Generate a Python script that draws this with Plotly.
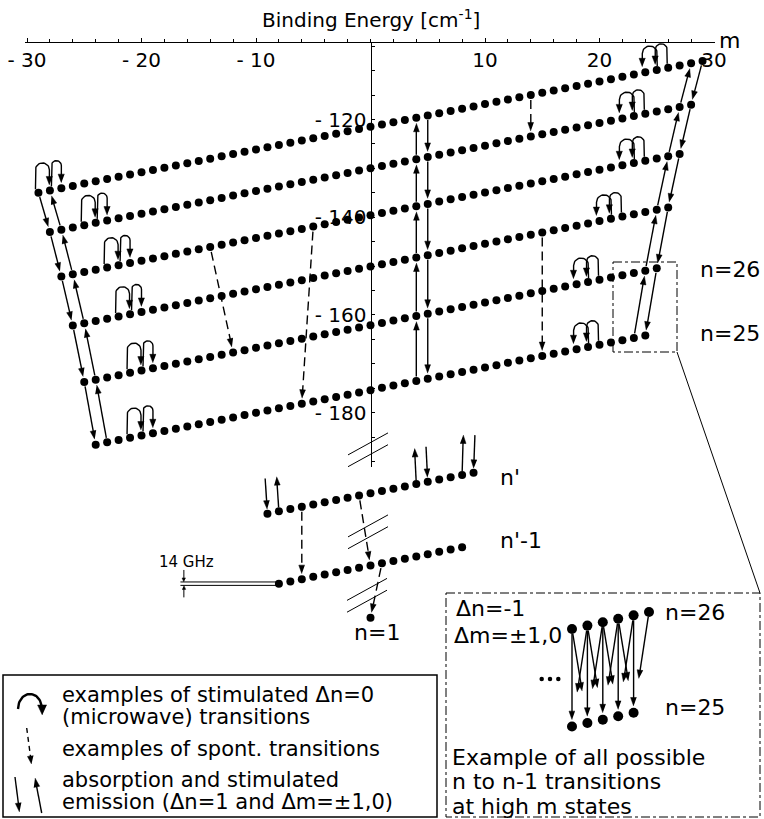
import math
import plotly.graph_objects as go

# ---------------- data ----------------
level_n = [30, 29, 28, 27, 26, 25]
level_E0 = [-121.5, -130.0, -139.6, -150.1, -162.1, -175.4]   # binding energy at m = 0 [cm^-1]
zeeman_shift = 0.465                                           # cm^-1 per unit of m (~14 GHz)

low_names = ["n'", "n'-1", "n=1"]
low_E0 = [-196.5, -211.3, -222.0]
low_mmax = [9, 8, 0]

# microwave (dn=0) double loops: starting m of the chain m0 -> m0+1 -> m0+2 (left) / m0 -> m0-1 -> m0-2 (right)
mw_left_start = [-29, -25, -23, -22, -21, -21]
mw_right_start = [26, 24, 24, 22, 20, 20]

# spontaneous transitions (n_from, m_from, n_to, m_to)
spont_upper = [(30, 14, 29, 14), (28, -14, 26, -12), (28, -5, 25, -6), (27, 15, 25, 15)]
# lower schematic levels (index into low_*)
spont_lower = [(0, -6, 1, -6), (0, -1, 1, 0), (1, 1, 2, 0)]

abs_up_m, abs_down_m = 4, 5

# n' transitions towards the (not drawn) level above: (m, direction, dm of far end, dE of far end)
nprime_open = [(-9, -1, -0.2, 7.2), (-8, 1, -0.2, 7.1), (4, 1, -0.15, 7.3),
               (5, -1, -0.15, 7.2), (8, 1, 0.1, 8.2), (9, -1, 0.12, 7.7)]

inset_upper_m = [20, 21, 22, 23, 24, 25]   # n = 26
inset_lower_m = [20, 21, 22, 23, 24]       # n = 25

m_tickvals = [-30, -20, -10, 10, 20, 30]
m_ticktext = ["- 30", "- 20", "- 10", "10", "20", "30"]
E_tickvals = [-180, -160, -140, -120]
E_ticktext = ["- 180", "- 160", "- 140", "- 120"]

# ---------------- geometry helpers ----------------
W, H = 764, 819
PXM, PXE, X0, Y0 = 11.45, 4.885, 370.5, 119.5
FONT = "DejaVu Sans"


def mx(m):
    return X0 + m * PXM


def ey(E):
    return Y0 + (-120 - E) * PXE


def xm(px):
    return (px - X0) / PXM


def ye(py):
    return -120 - (py - Y0) / PXE


E0_of = dict(zip(level_n, level_E0))


def E_level(n, m):
    return E0_of[n] + zeeman_shift * m


def E_low(i, m):
    return low_E0[i] + zeeman_shift * m


def dot(n, m):
    return (mx(m), ey(E_level(n, m)))


def dot_low(i, m):
    return (mx(m), ey(E_low(i, m)))


solid, dashed, thin, thick, legdash, heads = [], [], [], [], [], []


def arrow(p0, p1, s0=4.5, s1=5.5, L=8.5, hw=3.0, store=None):
    store = solid if store is None else store
    (x0, y0), (x1, y1) = p0, p1
    dx, dy = x1 - x0, y1 - y0
    d = math.hypot(dx, dy)
    ux, uy = dx / d, dy / d
    sx, sy = x0 + ux * s0, y0 + uy * s0
    tx, ty = x1 - ux * s1, y1 - uy * s1
    bx, by = tx - ux * L, ty - uy * L
    store.append([(sx, sy), (bx + ux * 1.5, by + uy * 1.5)])
    nx, ny = -uy, ux
    heads.append([(tx, ty), (bx + nx * hw, by + ny * hw), (bx - nx * hw, by - ny * hw)])


def add_loop(foot, tip, top_y, L=8.5, hw=3.2):
    (xa, ya), (xb, yb) = foot, tip
    r = abs(xb - xa) / 2
    xc = (xa + xb) / 2
    yc = top_y + r
    pts = [(xa, ya), (xa, yc)]
    N = 18
    for k in range(1, N):
        t = k / N
        th = math.pi * (1 - t) if xb > xa else math.pi * t
        pts.append((xc + r * math.cos(th), yc - r * math.sin(th)))
    pts += [(xb, yc), (xb, yb - L + 1)]
    solid.append(pts)
    heads.append([(xb, yb), (xb - hw, yb - L), (xb + hw, yb - L)])


# ---- microwave loops ----
for n, m0 in zip(level_n, mw_left_start):
    d0, d1, d2 = dot(n, m0), dot(n, m0 + 1), dot(n, m0 + 2)
    add_loop((d0[0] - 3, d0[1] - 3.5), (d1[0] - 0.5, d1[1] - 5.5), min(d0[1], d1[1]) - 27.5)
    add_loop((d1[0] + 1.5, d1[1] - 4), (d2[0], d2[1] - 5.5), min(d1[1], d2[1]) - 27.5)
for n, m0 in zip(level_n, mw_right_start):
    d0, d1, d2 = dot(n, m0), dot(n, m0 - 1), dot(n, m0 - 2)
    add_loop((d0[0] - 1, d0[1] - 4), (d1[0] - 1.5, d1[1] - 5.5), min(d0[1], d1[1]) - 24)
    add_loop((d1[0] + 0.5, d1[1] - 4), (d2[0] - 3, d2[1] - 5.5), min(d1[1], d2[1]) - 24)

# ---- dn = 1 absorption / stimulated emission chains ----
for na, nb in zip(level_n[:-1], level_n[1:]):
    arrow(dot(na, -(na - 1)), dot(nb, -(nb - 1)))
    arrow(dot(nb, -(nb - 2)), dot(na, -(na - 2)))
    arrow(dot(nb, nb - 2), dot(na, na - 2))
    arrow(dot(na, na - 1), dot(nb, nb - 1))
    arrow(dot(nb, abs_up_m), dot(na, abs_up_m))
    arrow(dot(na, abs_down_m), dot(nb, abs_down_m))

# ---- spontaneous (dashed) ----
for na, ma, nb, mb in spont_upper:
    arrow(dot(na, ma), dot(nb, mb), s0=5, s1=5.5, store=dashed)
for ia, ma, ib, mb in spont_lower:
    arrow(dot_low(ia, ma), dot_low(ib, mb), s0=5, s1=5.5, store=dashed)

# ---- n' open-ended transitions ----
for m, direction, dm, dE in nprime_open:
    p = dot_low(0, m)
    far = (mx(m + dm), ey(E_low(0, m) + dE))
    if direction > 0:
        arrow(p, far, s0=4, s1=0)
    else:
        arrow(far, p, s0=0, s1=4.5)

# ---- 14 GHz marker ----
E_ref = E_low(1, -8)
for s in (+0.35, -0.35):
    thin.append([(mx(-16.6), ey(E_ref + s)), (mx(-8), ey(E_ref + s))])
xa_ = mx(-16.3)
arrow((xa_, ey(E_ref + 0.35) - 12), (xa_, ey(E_ref + 0.35)), s0=0, s1=0, L=4, hw=1.8, store=thin)
arrow((xa_, ey(E_ref - 0.35) + 12), (xa_, ey(E_ref - 0.35)), s0=0, s1=0, L=4, hw=1.8, store=thin)

# ---- axis break marks ----
for cx, cy in [(368, 449.8), (368, 531.8), (367, 595.3)]:
    for off in (-5.9, 5.9):
        thin.append([(cx - 20, cy + off + 11), (cx + 20, cy + off - 11)])

# ---- connector from zoom box to inset ----
thin.append([(677, 352), (760, 593)])

# ---- inset (magnified view of n=26 / n=25 at high m) ----
E_anchor = E_level(26, 20)


def inset_pt(n, m):
    return (572 + (m - 20) * 15.4, 629 - (E_level(n, m) - E_anchor) * PXE * 1.5)


frac = {-1: 0.66, 0: 0.93, 1: 0.66}
for mu in inset_upper_m:
    for dm in (-1, 0, 1):
        ml = mu + dm
        if ml in inset_lower_m:
            p0 = inset_pt(26, mu)
            p1 = inset_pt(25, ml)
            f = frac[dm]
            tip = (p0[0] + f * (p1[0] - p0[0]), p0[1] + f * (p1[1] - p0[1]))
            arrow(p0, tip, s0=5, s1=0, L=8.5, hw=3)

# ---- legend icons ----
arc = []
for k in range(0, 31):
    th = math.radians(180 - 170 * k / 30)
    arc.append((30 + 12 * math.cos(th), 709 - 15 * math.sin(th)))
thick.append(arc)
heads.append([(42.3, 715), (37.6, 705), (46.8, 705)])
arrow((26.7, 728), (31.5, 764), s0=0, s1=0, L=8, hw=3, store=legdash)
arrow((15, 777), (19.5, 812), s0=0, s1=0, L=9, hw=3)
arrow((41.7, 813), (35, 778), s0=0, s1=0, L=9, hw=3)


def to_xy(polys):
    xs, ys = [], []
    for pts in polys:
        for px, py in pts:
            xs.append(xm(px))
            ys.append(ye(py))
        xs.append(None)
        ys.append(None)
    return xs, ys


fig = go.Figure()


def add_lines(polys, width, dash="solid"):
    xs, ys = to_xy(polys)
    fig.add_trace(go.Scatter(x=xs, y=ys, mode="lines", line=dict(color="black", width=width, dash=dash),
                             hoverinfo="skip", showlegend=False))


add_lines(solid, 1.4)
add_lines(thin, 1.0)
add_lines(thick, 2.4)
add_lines(dashed, 1.4, "9px,5px")
add_lines(legdash, 1.4, "5px,4px")
hx, hy = to_xy(heads)
fig.add_trace(go.Scatter(x=hx, y=hy, mode="lines", fill="toself", fillcolor="black",
                         line=dict(color="black", width=0.5), hoverinfo="skip", showlegend=False))

# ---- energy levels (dots) ----
for n in level_n:
    ms = list(range(-(n - 1), n))
    fig.add_trace(go.Scatter(x=ms, y=[E_level(n, m) for m in ms], mode="markers", name=f"n={n}",
                             marker=dict(size=8, color="black"), showlegend=False))
for i, name in enumerate(low_names):
    ms = list(range(-low_mmax[i], low_mmax[i] + 1))
    fig.add_trace(go.Scatter(x=ms, y=[E_low(i, m) for m in ms], mode="markers", name=name,
                             marker=dict(size=8, color="black"), showlegend=False))

# inset dots
ix, iy = [], []
for m in inset_upper_m:
    p = inset_pt(26, m)
    ix.append(xm(p[0])); iy.append(ye(p[1]))
for m in inset_lower_m:
    p = inset_pt(25, m)
    ix.append(xm(p[0])); iy.append(ye(p[1]))
fig.add_trace(go.Scatter(x=ix, y=iy, mode="markers", marker=dict(size=10, color="black"),
                         hoverinfo="skip", showlegend=False))
fig.add_trace(go.Scatter(x=[xm(541.7), xm(550), xm(558.3)], y=[ye(679)] * 3, mode="markers",
                         marker=dict(size=4.5, color="black"), hoverinfo="skip", showlegend=False))

# dummy traces so that the visible axes exist
fig.add_trace(go.Scatter(x=[0], y=[ye(300)], xaxis="x2", yaxis="y", mode="markers",
                         marker=dict(opacity=0), hoverinfo="skip", showlegend=False))
fig.add_trace(go.Scatter(x=[xm(800)], y=[-150], xaxis="x", yaxis="y2", mode="markers",
                         marker=dict(opacity=0), hoverinfo="skip", showlegend=False))

# ---------------- boxes ----------------
def rect(x0, y0, x1, y1, dash="solid", width=1.0):
    fig.add_shape(type="rect", xref="paper", yref="paper", x0=x0 / W, x1=x1 / W, y0=1 - y0 / H, y1=1 - y1 / H,
                  line=dict(color="black", width=width, dash=dash), fillcolor="rgba(0,0,0,0)")


rect(613, 262, 677, 352, "dashdot", 1.0)
rect(446, 593, 760, 817, "dashdot", 1.0)
rect(3, 675, 437, 817, "solid", 1.5)

# ---------------- texts ----------------
def text(px, py, s, size=21, xanchor="left"):
    fig.add_annotation(x=px / W, y=1 - py / H, xref="paper", yref="paper", text=s, showarrow=False,
                       xanchor=xanchor, yanchor="middle", borderpad=0,
                       font=dict(family=FONT, size=size, color="black"))


text(371, 19, "Binding Energy [cm<sup>-1</sup>]", 20, "center")
text(729, 40, "m", 22, "center")
text(699, 270, "n=26", 22)
text(699, 333, "n=25", 22)
text(499, 477, "n'", 22)
text(499, 540, "n'-1", 22)
text(377, 632, "n=1", 22, "center")
text(186, 562, "14 GHz", 15, "center")
text(455, 608, "Δn=-1", 22)
text(453, 635, "Δm=±1,0", 22)
text(664, 612, "n=26", 22)
text(664, 707, "n=25", 22)
text(451, 757, "Example of all possible", 22)
text(451, 781, "n to n-1 transitions", 22)
text(451, 806, "at high m states", 22)
text(61, 695, "examples of stimulated Δn=0", 21)
text(61, 717, "(microwave) transitions", 21)
text(61, 749, "examples of spont. transitions", 21)
text(61, 780, "absorption and stimulated", 21)
text(61, 802, "emission (Δn=1 and Δm=±1,0)", 21)

tickfont = dict(family=FONT, size=20, color="black")
fig.update_layout(
    width=W, height=H, autosize=False,
    margin=dict(l=0, r=0, t=0, b=0, pad=0, autoexpand=False),
    paper_bgcolor="white", plot_bgcolor="rgba(0,0,0,0)",
    showlegend=False,
    xaxis=dict(domain=[0, 1], range=[xm(0), xm(W)], visible=False, automargin=False),
    yaxis=dict(domain=[0, 1], range=[ye(H), ye(0)], visible=False, automargin=False),
    xaxis2=dict(domain=[mx(-30.15) / W, mx(30.05) / W], range=[-30.15, 30.05], anchor="free",
                position=1 - 41.5 / H, side="bottom", showline=True, linecolor="black", linewidth=1,
                ticks="inside", ticklen=4, tickwidth=1, tickcolor="black", automargin=False,
                tickmode="array", tickvals=m_tickvals, ticktext=m_ticktext, tickfont=tickfont,
                minor=dict(tickmode="linear", tick0=0, dtick=2, ticks="inside", ticklen=2.5, tickcolor="black"),
                showgrid=False, zeroline=False),
    yaxis2=dict(domain=[1 - 467 / H, 1 - 41.5 / H], range=[ye(467), ye(41.5)], anchor="free",
                position=X0 / W, side="left", showline=True, linecolor="black", linewidth=1,
                ticks="inside", ticklen=3, tickwidth=1, tickcolor="black", automargin=False,
                tickmode="array", tickvals=E_tickvals, ticktext=E_ticktext, tickfont=tickfont,
                minor=dict(tickmode="linear", tick0=0, dtick=5, ticks="inside", ticklen=3, tickcolor="black"),
                showgrid=False, zeroline=False),
)

fig.write_html("out.html", config={"displayModeBar": False})
